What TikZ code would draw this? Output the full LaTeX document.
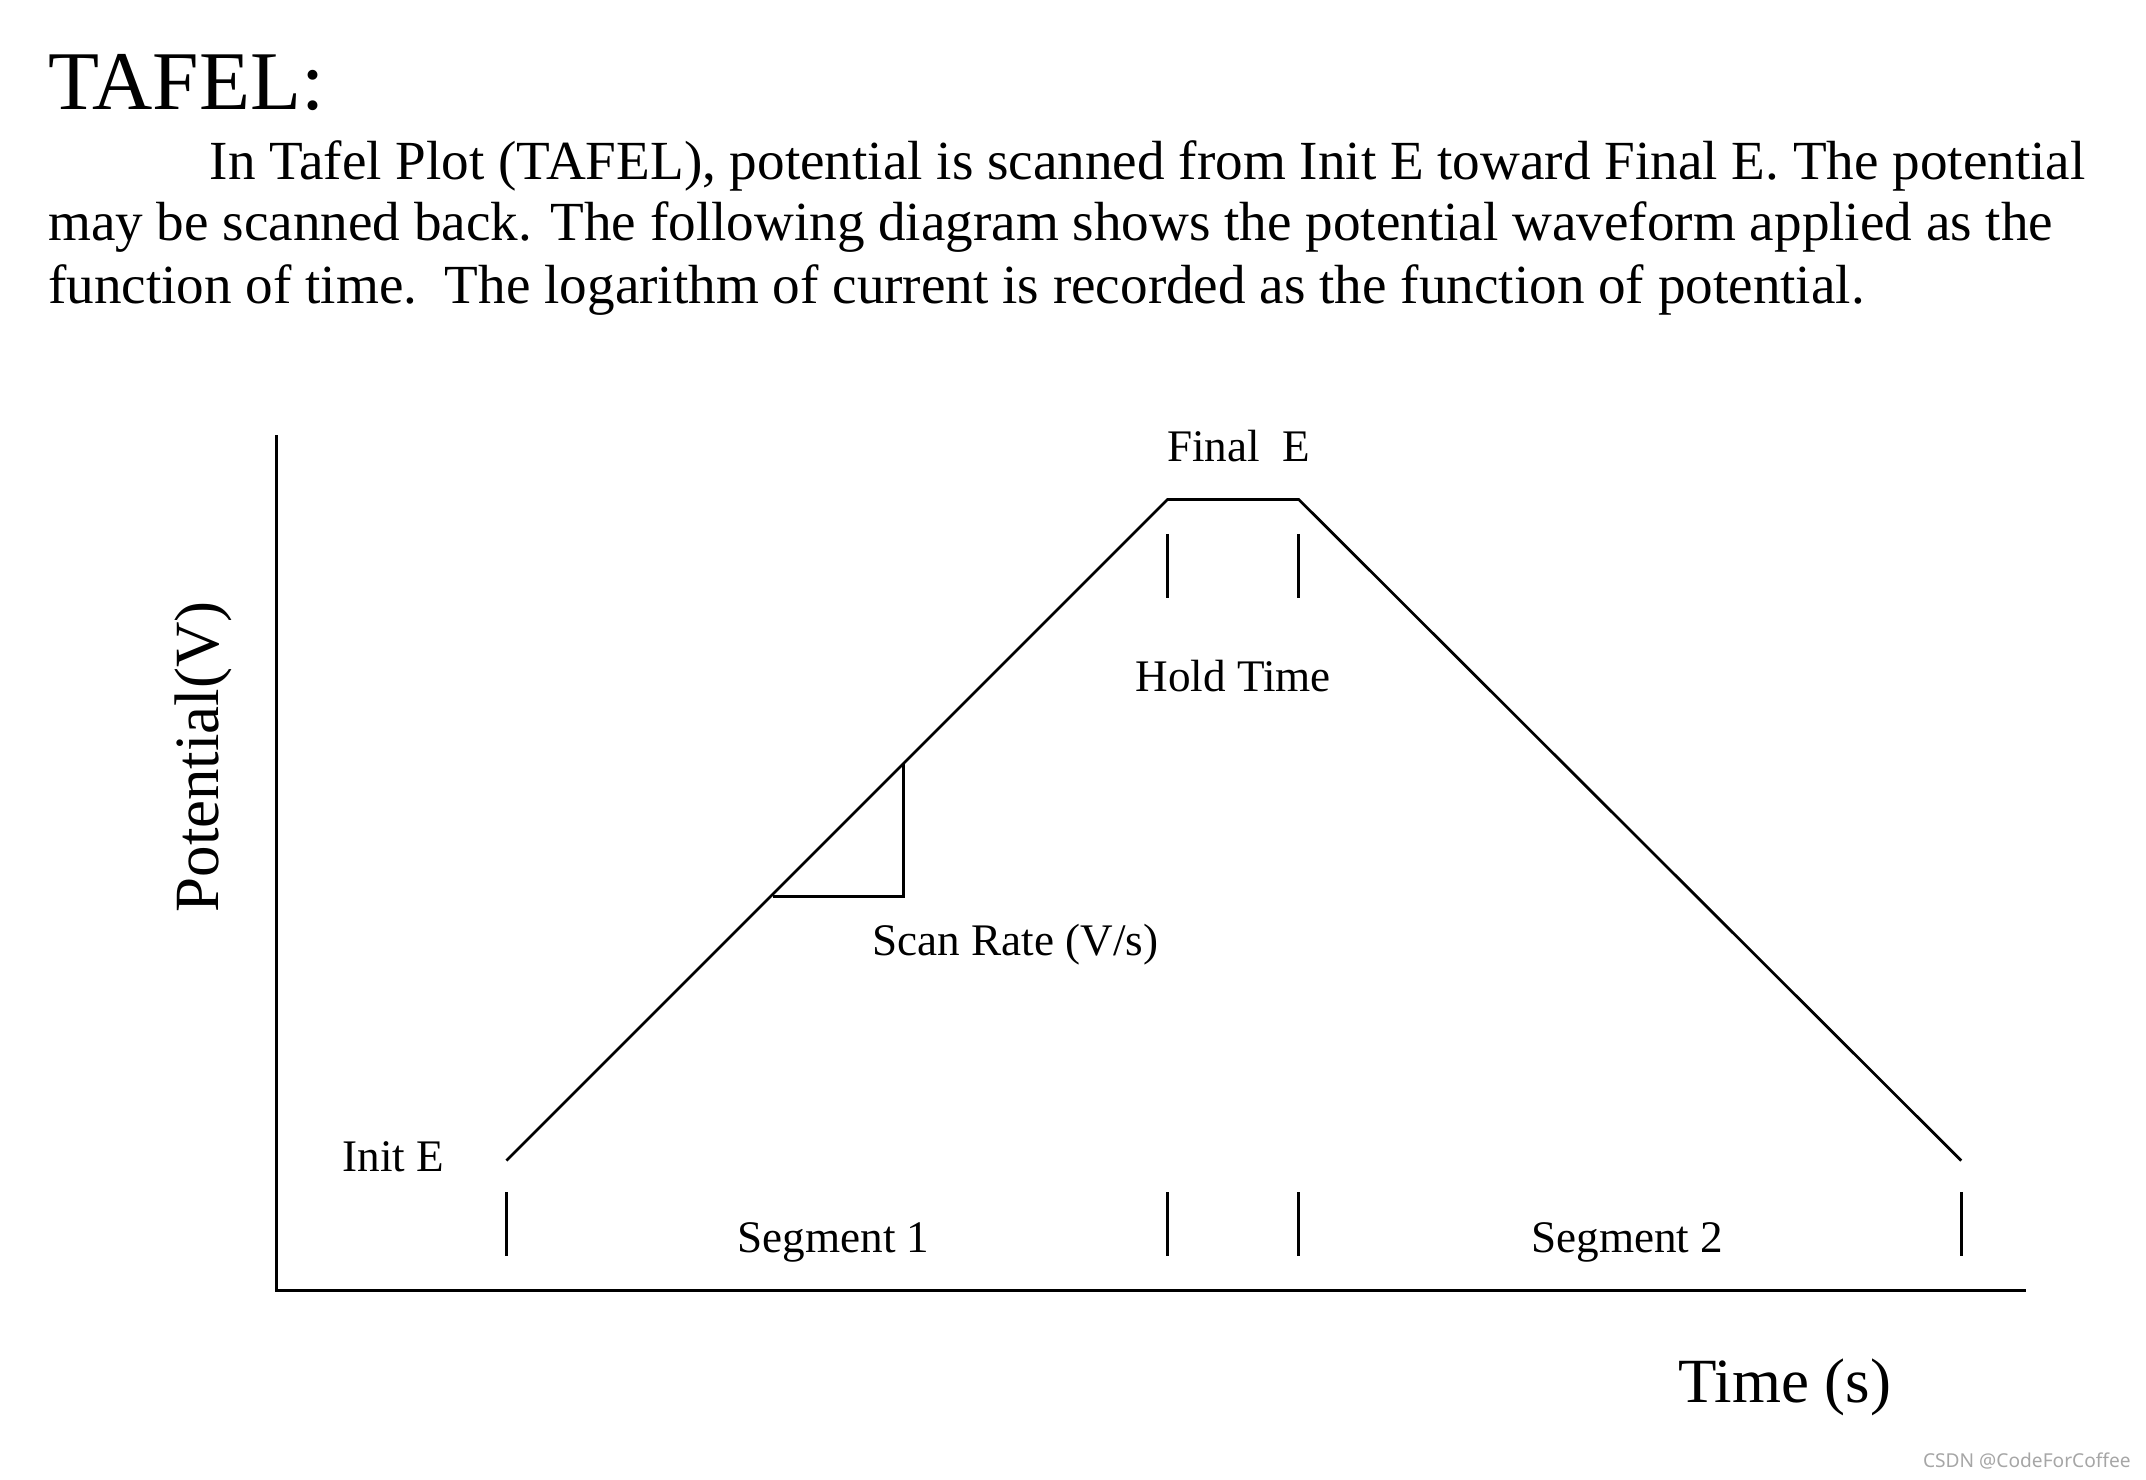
\documentclass[tikz,border=0pt]{standalone}
\usepackage{fontspec}
\setmainfont{Liberation Serif}
\newfontfamily\wmfont{Noto Sans}

\begin{document}
\begin{tikzpicture}[x=1pt,y=-1pt,
  axis/.style={line width=2.6pt},
  wave/.style={line width=2pt},
  tickmark/.style={line width=2pt},
  lbl/.style={font=\fontsize{33}{40}\selectfont,inner sep=0pt,anchor=base},
  body/.style={font=\fontsize{40.3}{45}\selectfont,inner sep=0pt,anchor=base west}]
  \useasboundingbox (0,0) rectangle (1568,1081);
  % heading and text
  \node[font=\fontsize{61}{70}\selectfont,inner sep=0pt,anchor=base west] (title) at (35,80) {TAFEL:};
  \node[body] (line1) at (153,131) {In Tafel Plot (TAFEL), potential is scanned from Init E toward Final E. The potential};
  \node[body] (line2) at (35,176) {may be scanned back. The following diagram shows the potential waveform applied as the};
  \node[body] (line3) at (35,222) {function of time.\ \ The logarithm of current is recorded as the function of potential.};
  % axes
  \coordinate (origin) at (202,943);
  \coordinate (ytop) at (202,318);
  \coordinate (xend) at (1480,943);
  \draw[axis] (ytop) -- (origin) -- (xend);
  % waveform
  \coordinate (init) at (370,848);
  \coordinate (topL) at (853,365);
  \coordinate (topR) at (949,365);
  \coordinate (final) at (1433,848);
  \draw[wave] (init) -- (topL) -- (topR) -- (final);
  % slope triangle
  \coordinate (triA) at (565,655);
  \coordinate (triB) at (660,655);
  \coordinate (triC) at (660,558);
  \draw[wave] (triA) -- (triB) -- (triC);
  % ticks
  \foreach \x in {370,853,949,1433} {
    \draw[tickmark] (\x,871) -- (\x,918);
  }
  \foreach \x in {853,949} {
    \draw[tickmark] (\x,390) -- (\x,437);
  }
  % labels
  \node[lbl] (finalE) at (905,337) {Final\ \ E};
  \node[lbl] (hold) at (901,505) {Hold Time};
  \node[lbl] (rate) at (742,698) {Scan Rate (V/s)};
  \node[lbl,anchor=base west] (initE) at (250,856) {Init E};
  \node[lbl] (seg1) at (609,915) {Segment 1};
  \node[lbl] (seg2) at (1189,915) {Segment 2};
  \node[lbl,font=\fontsize{46}{55}\selectfont] (time) at (1304,1025) {Time (s)};
  \node[lbl,font=\fontsize{46}{55}\selectfont,rotate=90] (pot) at (160,553) {Potential(V)};
  \node[font=\wmfont\fontsize{14}{16}\selectfont,text=gray!70,inner sep=0pt,anchor=base east] (mark) at (1557,1072) {CSDN @CodeForCoffee};
\end{tikzpicture}
\end{document}
